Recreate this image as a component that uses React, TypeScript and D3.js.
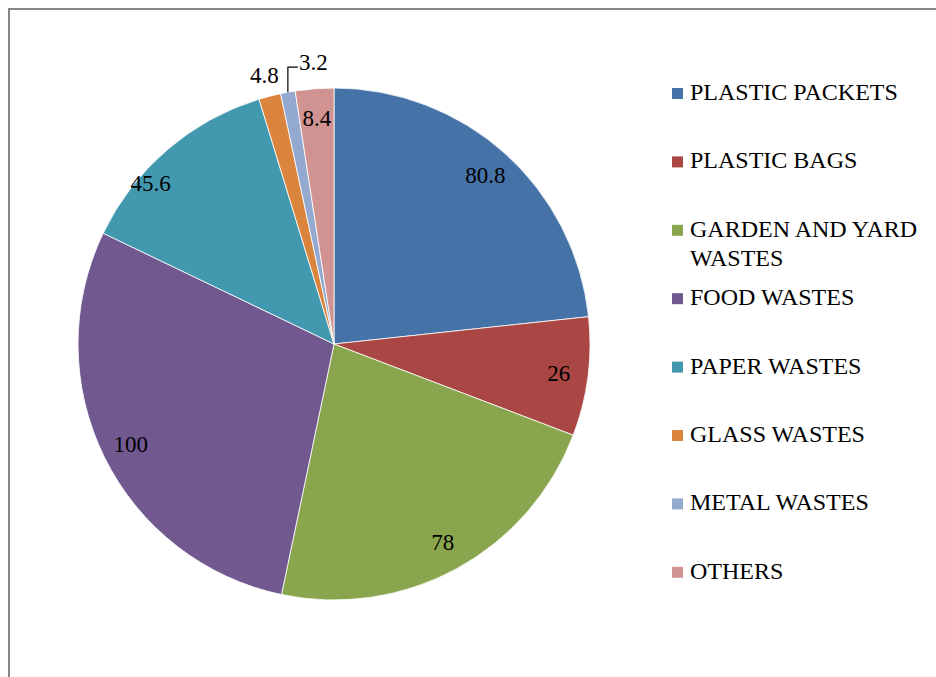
import React from 'react';
import * as d3 from 'd3';

// Waste composition (share of collected waste)
const categories = [
  'PLASTIC PACKETS',
  'PLASTIC BAGS',
  'GARDEN AND YARD WASTES',
  'FOOD WASTES',
  'PAPER WASTES',
  'GLASS WASTES',
  'METAL WASTES',
  'OTHERS',
];
const values = [80.8, 26, 78, 100, 45.6, 4.8, 3.2, 8.4];
const legendLines = [
  ['PLASTIC PACKETS'],
  ['PLASTIC BAGS'],
  ['GARDEN AND YARD', 'WASTES'],
  ['FOOD WASTES'],
  ['PAPER WASTES'],
  ['GLASS WASTES'],
  ['METAL WASTES'],
  ['OTHERS'],
];
const colors = ['#4572A7', '#AA4643', '#89A54E', '#71588F', '#4198AF', '#DB843D', '#93A9CF', '#D19392'];

const W = 936;
const H = 677;
const CX = 334;
const CY = 344;
const R = 256;

type Datum = { name: string; value: number; color: string };

const data: Datum[] = categories.map((name, i) => ({ name, value: values[i], color: colors[i] }));

// label placement for slices that cannot hold their value inside
const labelMode: Record<string, 'inside' | 'outside' | 'leader'> = {
  'GLASS WASTES': 'outside',
  'METAL WASTES': 'leader',
};
const labelNudge: Record<string, { da: number; r: number }> = {
  'PAPER WASTES': { da: -8, r: 244 },
};

const labelStyle = { fontFamily: "'Liberation Serif', monospace", fontSize: 23 };
const legendStyle = { fontFamily: "'Liberation Serif', monospace", fontSize: 24 };

export default function App() {
  const pie = d3
    .pie<Datum>()
    .sort(null)
    .value((d) => d.value)
    .startAngle(0)
    .endAngle(2 * Math.PI);
  const arcs = pie(data);
  const arc = d3.arc<d3.PieArcDatum<Datum>>().innerRadius(0).outerRadius(R);

  const polar = (a: number, r: number): [number, number] => [Math.sin(a) * r, -Math.cos(a) * r];

  const legendY = d3.scaleLinear().domain([0, 1]).range([100, 168.4]);

  return (
    <svg width={W} height={H} style={{ position: 'absolute', left: 0, top: 0, background: '#fff' }}>
      <rect x={9} y={9} width={W * 2} height={H * 2} fill="none" stroke="#878787" strokeWidth={2} />
      <g transform={`translate(${CX},${CY})`}>
        {arcs.map((a) => (
          <path key={a.data.name} d={arc(a) || ''} fill={a.data.color} stroke="#fff" strokeWidth={0.8} />
        ))}
        {arcs.map((a) => {
          const mid = (a.startAngle + a.endAngle) / 2;
          const mode = labelMode[a.data.name] || 'inside';
          const txt = String(a.data.value);
          if (mode === 'leader') {
            const [x0, y0] = polar(mid, R);
            const yTop = y0 - 25;
            const x1 = x0 + 10;
            return (
              <g key={a.data.name}>
                <path d={`M${x0},${y0}V${yTop}H${x1}`} fill="none" stroke="#000" strokeWidth={1.2} />
                <text x={x1 + 1} y={yTop + 3} style={labelStyle} fill="#000">
                  {txt}
                </text>
              </g>
            );
          }
          const nudge = labelNudge[a.data.name];
          const ang = mid + ((nudge ? nudge.da : 0) * Math.PI) / 180;
          const rad = mode === 'outside' ? R + 22 : nudge ? nudge.r : R * 0.885;
          const [x, y] = polar(ang, rad);
          return (
            <text key={a.data.name} x={x} y={y + 7.6} textAnchor="middle" style={labelStyle} fill="#000">
              {txt}
            </text>
          );
        })}
      </g>
      <g>
        {data.map((d, i) => {
          const by = legendY(i);
          return (
            <g key={d.name}>
              <rect x={672} y={by - 12} width={11} height={11} fill={d.color} />
              <text x={690} y={by} style={legendStyle} fill="#000">
                {legendLines[i].map((line, j) => (
                  <tspan key={j} x={690} y={by + j * 29}>
                    {line}
                  </tspan>
                ))}
              </text>
            </g>
          );
        })}
      </g>
    </svg>
  );
}
